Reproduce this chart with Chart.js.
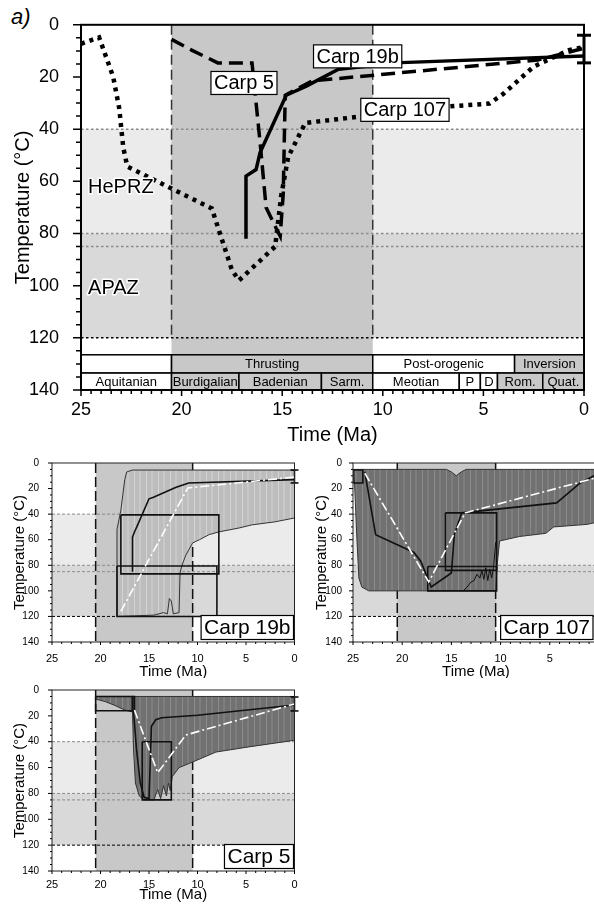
<!DOCTYPE html>
<html>
<head>
<meta charset="utf-8">
<title>Thermal histories</title>
<script src="https://cdn.jsdelivr.net/npm/chart.js@4.4.1/dist/chart.umd.min.js"></script>
<style>
  html, body { margin: 0; padding: 0; background: #fff; }
  body { width: 594px; height: 906px; position: relative; overflow: hidden; }
  canvas { position: absolute; display: block; }
  #panelTag { position: absolute; left: 11px; top: 4px; font: italic 22px "Liberation Sans", Arial, sans-serif; line-height: 26px; }
</style>
</head>
<body>
<div id="panelTag">a)</div>
<canvas id="overview" width="594" height="450" style="left:0;top:0"></canvas>
<canvas id="carp19b" width="300" height="228" style="left:0;top:450px"></canvas>
<canvas id="carp107" width="304" height="228" style="left:300px;top:450px"></canvas>
<canvas id="carp5" width="300" height="228" style="left:0;top:678px"></canvas>
<script>
const FONT = '"Liberation Sans", Arial, sans-serif';
const HEPRZ_FILL = '#ebebeb';
const APAZ_FILL = '#d9d9d9';
const THRUST_FILL = '#c8c8c8';

// axes and zones (Ma / °C)
const timeRange = [0, 25];
const tempRange = [0, 140];
const thrustSpan = [20.5, 10.5];
const hePRZ = [40, 80];
const aPAZ = [80, 120];
const limitLines = [40, 80, 85];
const apazBase = 120;

// overview: best-fit paths
const ovTime19b = [16.8, 16.8, 16.3, 16.1, 14.8, 13.8, 12.2, 9.1, 0];
const ovTemp19b = [82, 58, 55.5, 49, 27, 23.5, 17, 14.5, 12];
const ovTime5 = [20.5, 19.5, 18.2, 16.5, 16.1, 15.8, 15.3, 15.1, 14.95, 14.85, 13.5, 2.3, 0];
const ovTemp5 = [5.6, 9.7, 14.6, 14.6, 45, 70, 78, 81, 65, 27, 21.5, 13.5, 9];
const ovTime107 = [25, 24.1, 23.4, 23.1, 22.9, 22.7, 20.45, 18.5, 17.5, 17.15, 15.35, 15.05, 14.7, 13.85, 6.7, 4.7, 4.0, 2.5, 0.75, 0];
const ovTemp107 = [7.3, 4.8, 20, 32, 47, 54.3, 63, 70.4, 94, 98, 85, 65.5, 50.6, 37.6, 31.3, 30.2, 26.4, 16, 9.7, 8.5];
const ovErrTime = [0, 0];
const ovErrTemp = [4, 14.6];

// tectonic phases and stages under the overview
const phaseNames = ['', 'Thrusting', 'Post-orogenic', 'Inversion'];
const phaseFrom = [25, 20.5, 10.5, 3.45];
const phaseTo = [20.5, 10.5, 3.45, 0];
const phaseShaded = [false, true, false, true];
const stageNames = ['Aquitanian', 'Burdigalian', 'Badenian', 'Sarm.', 'Meotian', 'P', 'D', 'Rom.', 'Quat.'];
const stageFrom = [25, 20.5, 17.15, 13.05, 10.5, 6.2, 5.15, 4.3, 2.05];
const stageTo = [20.5, 17.15, 13.05, 10.5, 6.2, 5.15, 4.3, 2.05, 0];
const stageShaded = [false, true, true, true, false, false, false, true, true];

// Carp 19b model
const env19bTime = [18.3, 18.3, 17.9, 17.5, 17.3, 16.7, 0, 0, 2.0, 4.4, 5.7, 7.8, 8.8, 9.8, 10.5, 11.2, 11.6, 11.8, 11.9, 12.5, 12.7, 12.9, 13.1, 13.5, 14.5];
const env19bTemp = [120, 52, 37, 13, 7, 5.5, 5.5, 43, 46, 48.4, 50.8, 53.9, 56, 60, 62.5, 72, 80, 86, 117, 118, 108, 106, 118, 117, 119];
const fit19bTime = [16.7, 16.7, 16.5, 16.2, 15.0, 14.6, 12.2, 10.9, 0];
const fit19bTemp = [85, 58, 54, 49, 28, 27, 19, 15.6, 13];
const mean19bTime = [17.9, 11.0, 0];
const mean19bTemp = [116, 19.5, 11];
const box19bFrom = [17.9, 18.3];
const box19bTo = [7.8, 8.0];
const box19bTop = [40.6, 80.5];
const box19bBase = [86.7, 120];
const err19bTemp = [5.5, 15.6];

// Carp 107 model
const env107Time = [24.9, 15.5, 15.0, 14.5, 14.0, 13.5, 0, 0, 1.2, 4.6, 5.4, 8.1, 10.1, 10.35, 10.5, 23.4, 24.1, 24.4, 24.6];
const env107Temp = [5, 5, 7, 10, 7, 5, 5, 46, 48, 50, 55, 57.5, 61, 80, 100, 100, 97, 90, 60];
const fit107Time = [23.8, 22.7, 18.8, 18.1, 17.05, 15.0, 14.7, 13.95, 4.3, 1.9, 0];
const fit107Temp = [7, 56, 70, 77, 97, 86, 56, 39, 31.2, 15.6, 8];
const jag107Time = [13.8, 13.4, 13.0, 12.7, 12.4, 12.1, 11.9, 11.7, 11.5, 11.3, 11.1, 10.9, 10.7, 10.5];
const jag107Temp = [100, 97, 93, 92, 87, 90, 84, 91, 82, 92, 83, 90, 81, 62];
const mean107Time = [23.8, 17.3, 13.6, 0];
const mean107Temp = [8, 93, 39, 11];
const box107From = [25, 17.4, 15.6];
const box107To = [24.0, 10.4, 10.4];
const box107Top = [5.5, 81, 39];
const box107Base = [15.6, 100, 84];

// Carp 5 model
const env5Time = [20.5, 0, 0, 0.1, 4.7, 8.1, 10.5, 11.9, 12.6, 12.8, 13.0, 13.2, 13.5, 13.8, 14.1, 14.5, 15.5, 16.0, 16.4, 16.6, 16.7, 17.5, 18.5, 19.5, 20.5];
const env5Temp = [5, 5, 39, 39, 44, 48, 55.7, 60, 67, 78, 72, 82, 74, 84, 77, 85, 85, 82, 72, 45, 17, 15.5, 12, 9, 7];
const fit5Time = [16.6, 16.3, 15.9, 15.5, 15.0, 14.75, 14.3, 13.7, 10.0, 0];
const fit5Temp = [16, 45, 72, 83, 84, 28, 23, 21.5, 19.5, 11.6];
const mean5Time = [16.5, 14.1, 11.2, 0];
const mean5Temp = [15.5, 64, 34.8, 10.8];
const box5From = [20.5, 16.7, 15.7];
const box5To = [16.7, 16.5, 12.7];
const box5Top = [5, 5, 40];
const box5Base = [16, 16, 85];
const err5Temp = [5.4, 16.2];

const pts = (ts, vs) => ts.map((t, i) => ({ x: t, y: vs[i] }));
const ring = d => d.concat([d[0]]);
const boxPts = (t0, t1, a, b) => [{ x: t0, y: a }, { x: t1, y: a }, { x: t1, y: b }, { x: t0, y: b }, { x: t0, y: a }];

function curve(data, extra) {
  return Object.assign({
    data, showLine: true, fill: false, pointRadius: 0, pointHoverRadius: 0,
    borderColor: '#000', borderWidth: 1, tension: 0, order: 1
  }, extra);
}

function errBar(data, width, radius) {
  return curve(data, {
    borderWidth: width, pointStyle: 'line', pointRadius: radius,
    pointBorderWidth: width, pointBorderColor: '#000', clip: false, order: 0
  });
}

// vertical streaks inside the accepted-path envelopes
const shadePatterns = {};
function shadePattern(kind) {
  if (!shadePatterns[kind]) {
    const c = document.createElement('canvas');
    c.width = 12; c.height = 2;
    const g = c.getContext('2d');
    const cols = kind === 'light' ? ['#bdbdbd', '#d4d4d4', '#c8c8c8'] : ['#717171', '#8c8c8c', '#7e7e7e'];
    g.fillStyle = cols[0]; g.fillRect(0, 0, 12, 2);
    g.fillStyle = cols[1]; g.fillRect(2, 0, 1, 2);
    g.fillStyle = cols[2]; g.fillRect(7, 0, 2, 2);
    shadePatterns[kind] = g.createPattern(c, 'repeat');
  }
  return shadePatterns[kind];
}

const envelopePlugin = {
  id: 'envelope',
  beforeDatasetDraw(chart, args) {
    const ds = chart.data.datasets[args.index];
    if (!ds.envelopeShade) return;
    const { ctx, chartArea: a } = chart;
    ctx.save();
    ctx.beginPath();
    ctx.rect(a.left, a.top, a.right - a.left, a.bottom - a.top);
    ctx.clip();
    ctx.beginPath();
    args.meta.data.forEach((el, i) => (i ? ctx.lineTo(el.x, el.y) : ctx.moveTo(el.x, el.y)));
    ctx.closePath();
    ctx.fillStyle = shadePattern(ds.envelopeShade);
    ctx.fill();
    ctx.restore();
  }
};

function hline(ctx, x0, x1, y) { ctx.beginPath(); ctx.moveTo(x0, y); ctx.lineTo(x1, y); ctx.stroke(); }
function vline(ctx, x, y0, y1) { ctx.beginPath(); ctx.moveTo(x, y0); ctx.lineTo(x, y1); ctx.stroke(); }

function drawRow(ctx, X, Y, names, from, to, shaded, top, base, size) {
  ctx.font = size + 'px ' + FONT;
  ctx.textAlign = 'center';
  ctx.textBaseline = 'middle';
  names.forEach((name, i) => {
    const x0 = X(from[i]), x1 = X(to[i]), y0 = Y(top), y1 = Y(base);
    ctx.fillStyle = shaded[i] ? THRUST_FILL : '#fff';
    ctx.fillRect(x0, y0, x1 - x0, y1 - y0);
    ctx.strokeStyle = '#000';
    ctx.lineWidth = 1.5;
    ctx.strokeRect(x0, y0, x1 - x0, y1 - y0);
    if (name) {
      ctx.fillStyle = '#000';
      ctx.fillText(name, (x0 + x1) / 2, (y0 + y1) / 2 + 1);
    }
  });
}

function boxedText(ctx, text, cx, cy, size, lw) {
  ctx.font = size + 'px ' + FONT;
  const w = ctx.measureText(text).width + 6, h = size + 3;
  ctx.fillStyle = '#fff';
  ctx.fillRect(cx - w / 2, cy - h / 2, w, h);
  ctx.strokeStyle = '#000';
  ctx.lineWidth = lw;
  ctx.strokeRect(cx - w / 2, cy - h / 2, w, h);
  ctx.fillStyle = '#000';
  ctx.textAlign = 'center';
  ctx.textBaseline = 'middle';
  ctx.fillText(text, cx, cy + 1);
}

// zones, thrusting front, table, frame, ticks and labels
function decor(c) {
  return {
    id: 'decor',
    beforeDatasetsDraw(chart) {
      const { ctx, chartArea: a, scales: { x, y } } = chart;
      const X = v => x.getPixelForValue(v), Y = v => y.getPixelForValue(v);
      ctx.save();
      ctx.fillStyle = '#fff';
      ctx.fillRect(a.left, a.top, a.right - a.left, a.bottom - a.top);
      ctx.fillStyle = HEPRZ_FILL;
      ctx.fillRect(a.left, Y(hePRZ[0]), a.right - a.left, Y(hePRZ[1]) - Y(hePRZ[0]));
      ctx.fillStyle = APAZ_FILL;
      ctx.fillRect(a.left, Y(aPAZ[0]), a.right - a.left, Y(aPAZ[1]) - Y(aPAZ[0]));
      ctx.fillStyle = THRUST_FILL;
      ctx.fillRect(X(thrustSpan[0]), a.top, X(thrustSpan[1]) - X(thrustSpan[0]), Y(c.thrustBase) - a.top);

      ctx.lineWidth = c.limitWidth;
      ctx.setLineDash(c.limitDash);
      ctx.strokeStyle = '#8a8a8a';
      limitLines.forEach(T => hline(ctx, a.left, a.right, Y(T)));
      ctx.strokeStyle = '#000';
      hline(ctx, a.left, a.right, Y(apazBase));

      ctx.setLineDash(c.frontDash);
      ctx.lineWidth = c.frontWidth;
      ctx.strokeStyle = c.frontColor;
      thrustSpan.forEach(t => vline(ctx, X(t), a.top, Y(c.frontBase)));
      ctx.setLineDash([]);

      if (c.table) {
        drawRow(ctx, X, Y, phaseNames, phaseFrom, phaseTo, phaseShaded, 126.5, 133.5, 13);
        drawRow(ctx, X, Y, stageNames, stageFrom, stageTo, stageShaded, 133.5, 140, 13);
      }
      ctx.restore();
    },
    afterDatasetsDraw(chart) {
      const { ctx, chartArea: a, scales: { x, y } } = chart;
      const X = v => x.getPixelForValue(v), Y = v => y.getPixelForValue(v);
      ctx.save();
      ctx.strokeStyle = c.frameColor;
      ctx.lineWidth = c.frameWidth;
      ctx.strokeRect(a.left, a.top, a.right - a.left, a.bottom - a.top);

      ctx.strokeStyle = '#000';
      ctx.lineWidth = c.tickWidth;
      ctx.beginPath();
      for (let T = tempRange[0]; T <= tempRange[1]; T += 5) {
        const len = T % 20 === 0 ? c.yMajorLen : c.yMinorLen;
        const py = Y(T);
        ctx.moveTo(a.left - len, py);
        ctx.lineTo(a.left, py);
      }
      const steps = Math.round((timeRange[1] - timeRange[0]) / c.xMinor);
      for (let k = 0; k <= steps; k++) {
        const t = timeRange[0] + k * c.xMinor;
        const major = Math.abs(t / 5 - Math.round(t / 5)) < 1e-6;
        const px = X(t);
        ctx.moveTo(px, a.bottom);
        ctx.lineTo(px, a.bottom + (major ? c.xMajorLen : c.xMinorLen));
      }
      ctx.stroke();

      (c.tags || []).forEach(tg => boxedText(ctx, tg.text, X(tg.t), Y(tg.T), 20, 1.2));

      (c.zoneNames || []).forEach(z => {
        ctx.font = '20px ' + FONT;
        ctx.textAlign = 'left';
        ctx.textBaseline = 'middle';
        ctx.lineJoin = 'round';
        ctx.strokeStyle = '#fff';
        ctx.lineWidth = 3;
        ctx.strokeText(z.text, X(z.t), Y(z.T));
        ctx.fillStyle = '#000';
        ctx.fillText(z.text, X(z.t), Y(z.T));
      });

      if (c.sample) {
        ctx.font = '21px ' + FONT;
        const w = ctx.measureText(c.sample).width + 6, h = 23;
        const right = Math.min(a.right - 1, c.sampleRight || a.right - 1);
        boxedText(ctx, c.sample, right - w / 2, a.bottom - 3 - h / 2, 21, 1.2);
      }
      ctx.restore();
    }
  };
}

function scalesFor(c) {
  const titleFont = { family: FONT, size: c.titleSize };
  return {
    x: {
      type: 'linear', reverse: true, min: timeRange[0], max: timeRange[1],
      afterFit: s => { s.height = c.xHeight; },
      grid: { display: false }, border: { display: false },
      ticks: { stepSize: 5, autoSkip: false, maxRotation: 0, padding: c.xTickPad, color: '#000', font: { family: FONT, size: c.xTickSize } },
      title: { display: true, text: 'Time (Ma)', color: '#000', font: titleFont, padding: { top: 0, bottom: c.xTitlePad } }
    },
    y: {
      type: 'linear', reverse: true, min: tempRange[0], max: tempRange[1],
      afterFit: s => { s.width = c.yWidth; },
      grid: { display: false }, border: { display: false },
      ticks: { stepSize: 20, autoSkip: false, padding: c.yTickPad, color: '#000', font: { family: FONT, size: c.yTickSize } },
      title: { display: true, text: 'Temperature (°C)', color: '#000', font: titleFont, padding: { top: c.yTitlePad, bottom: 0 } }
    }
  };
}

function makeChart(id, datasets, c) {
  return new Chart(document.getElementById(id), {
    type: 'scatter',
    data: { datasets },
    options: {
      responsive: false, animation: false, devicePixelRatio: 1, events: [],
      layout: { padding: c.padding },
      plugins: { legend: { display: false }, tooltip: { enabled: false } },
      scales: scalesFor(c)
    },
    plugins: [decor(c), envelopePlugin]
  });
}

// overview
makeChart('overview', [
  curve(pts(ovTime19b, ovTemp19b), { borderWidth: 3.5 }),
  curve(pts(ovTime5, ovTemp5), { borderWidth: 3.5, borderDash: [14, 7] }),
  curve(pts(ovTime107, ovTemp107), { borderWidth: 4.5, borderDash: [4, 5] }),
  errBar(pts(ovErrTime, ovErrTemp), 3, 7)
], {
  padding: { left: 0, right: 6, top: 14, bottom: 0 },
  xHeight: 60, yWidth: 81, xTickSize: 18, yTickSize: 18, titleSize: 20,
  xTickPad: 1, xTitlePad: 3, yTickPad: 14, yTitlePad: 11,
  thrustBase: 126.5, frontBase: 120, table: true,
  limitWidth: 1.5, limitDash: [2.5, 2.5], frontDash: [10, 5], frontWidth: 1.5, frontColor: '#333',
  frameColor: '#000', frameWidth: 2, tickWidth: 1.5,
  yMajorLen: 8, yMinorLen: 5, xMinor: 0.5, xMajorLen: 6, xMinorLen: 4,
  tags: [
    { text: 'Carp 19b', t: 11.25, T: 12.1 },
    { text: 'Carp 5', t: 16.9, T: 22.3 },
    { text: 'Carp 107', t: 8.9, T: 32.6 }
  ],
  zoneNames: [
    { text: 'HePRZ', t: 24.65, T: 62.5 },
    { text: 'APAZ', t: 24.65, T: 100.9 }
  ]
});

function sampleSets(s) {
  const sets = [curve(ring(pts(s.envTime, s.envTemp)), { envelopeShade: s.shade, borderColor: '#333', borderWidth: 1, order: 4 })];
  s.boxFrom.forEach((t0, i) => {
    sets.push(curve(boxPts(t0, s.boxTo[i], s.boxTop[i], s.boxBase[i]), { borderColor: '#111', borderWidth: 1.6, order: 2 }));
  });
  (s.extra || []).forEach(d => sets.push(curve(d, { borderColor: '#111', borderWidth: 1, order: 3 })));
  sets.push(curve(pts(s.fitTime, s.fitTemp), { borderColor: '#111', borderWidth: 1.6, order: 1 }));
  sets.push(curve(pts(s.meanTime, s.meanTemp), { borderColor: '#fff', borderWidth: 1.6, borderDash: [9, 3, 2, 3], order: 0 }));
  if (s.errTemp) sets.push(errBar(pts([0, 0], s.errTemp), 1.5, 4));
  return sets;
}

function sampleStyle(extra) {
  return Object.assign({
    xTickSize: 11, yTickSize: 10, titleSize: 15, xTickPad: 2, xTitlePad: -3, yTickPad: 5, yTitlePad: 11,
    thrustBase: 140, frontBase: 140, table: false,
    limitWidth: 1, limitDash: [3, 2], frontDash: [10, 4], frontWidth: 1.5, frontColor: '#111',
    frameColor: '#222', frameWidth: 1, tickWidth: 1,
    yMajorLen: 4, yMinorLen: 2, xMinor: 1, xMajorLen: 3, xMinorLen: 2
  }, extra);
}

makeChart('carp19b', sampleSets({
  shade: 'light', envTime: env19bTime, envTemp: env19bTemp,
  fitTime: fit19bTime, fitTemp: fit19bTemp, meanTime: mean19bTime, meanTemp: mean19bTemp,
  boxFrom: box19bFrom, boxTo: box19bTo, boxTop: box19bTop, boxBase: box19bBase, errTemp: err19bTemp
}), sampleStyle({
  padding: { left: 0, right: 4, top: 13, bottom: 0 }, xHeight: 36, yWidth: 52, sample: 'Carp 19b'
}));

// this panel runs past the right edge of the page
makeChart('carp107', sampleSets({
  shade: 'dark', envTime: env107Time, envTemp: env107Temp,
  fitTime: fit107Time, fitTemp: fit107Temp, meanTime: mean107Time, meanTemp: mean107Temp,
  boxFrom: box107From, boxTo: box107To, boxTop: box107Top, boxBase: box107Base,
  extra: [pts(jag107Time, jag107Temp)]
}), sampleStyle({
  padding: { left: 0, right: 4, top: 13, bottom: 0 }, xHeight: 36, yWidth: 53, yTickPad: 3, yTitlePad: 13,
  sample: 'Carp 107', sampleRight: 293
}));

makeChart('carp5', sampleSets({
  shade: 'dark', envTime: env5Time, envTemp: env5Temp,
  fitTime: fit5Time, fitTemp: fit5Temp, meanTime: mean5Time, meanTemp: mean5Temp,
  boxFrom: box5From, boxTo: box5To, boxTop: box5Top, boxBase: box5Base, errTemp: err5Temp
}), sampleStyle({
  padding: { left: 0, right: 4, top: 12, bottom: 0 }, xHeight: 35, yWidth: 52, xTickPad: -1, xTitlePad: 2, sample: 'Carp 5'
}));
</script>
</body>
</html>
